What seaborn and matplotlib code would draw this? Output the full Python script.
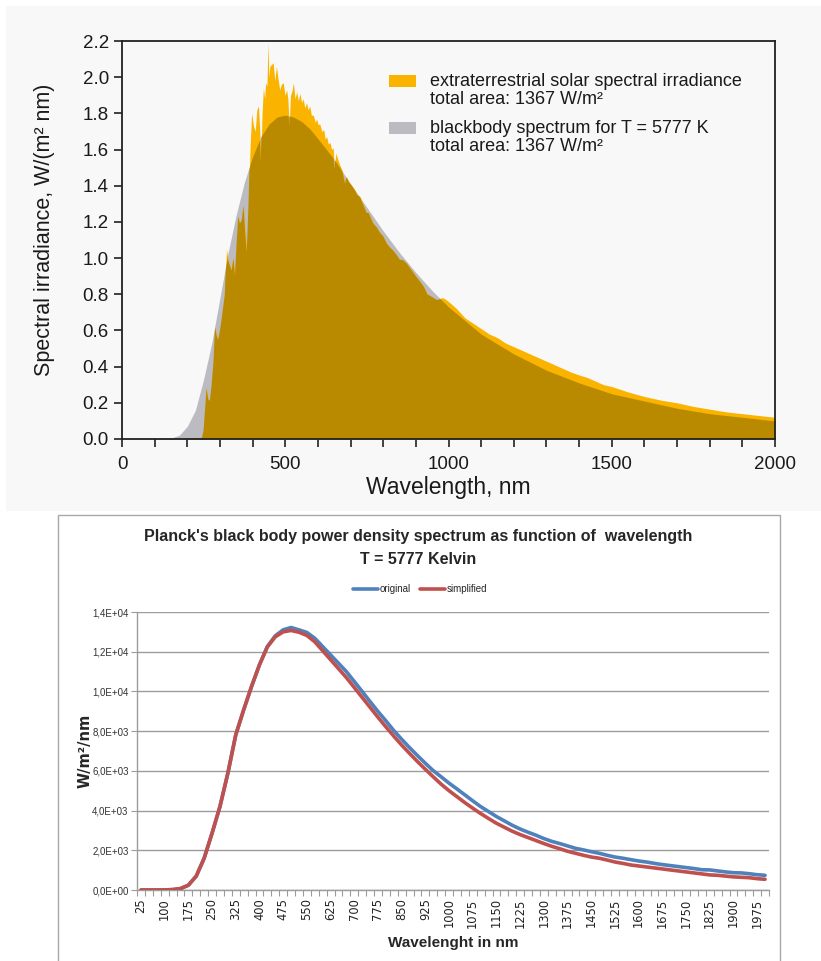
import matplotlib
matplotlib.use("Agg")
import matplotlib.pyplot as plt
from matplotlib.patches import Rectangle
from matplotlib.ticker import MultipleLocator, FixedLocator, FuncFormatter
import numpy as np
import pandas as pd
import seaborn as sns

sns.set_theme(style="white")
plt.rcParams['font.family'] = ['Liberation Sans', 'DejaVu Sans']

# ---- top chart: extraterrestrial spectrum vs blackbody
bb_nm = [100, 150, 175, 200, 225, 250, 275, 300, 325, 350, 375, 400, 425, 450,
         475, 500, 525, 550, 575, 600, 650, 700, 750, 800, 850, 900, 950, 1000,
         1100, 1200, 1300, 1400, 1500, 1600, 1700, 1800, 1900, 2000]
bb_val = [0.0, 0.005, 0.02, 0.07, 0.16, 0.33, 0.53, 0.78, 1.03, 1.24, 1.42, 1.56,
          1.67, 1.74, 1.78, 1.79, 1.78, 1.755, 1.715, 1.66, 1.545, 1.41, 1.28,
          1.15, 1.03, 0.92, 0.82, 0.73, 0.58, 0.47, 0.38, 0.31, 0.25, 0.21, 0.17,
          0.14, 0.12, 0.10]

solar_nm = [200, 245, 250, 255, 259, 264, 269, 274, 280, 285, 290, 295, 300, 305,
            310, 315, 320, 325, 330, 336, 341, 346, 351, 356, 361, 367, 372, 377,
            382, 387, 392, 397, 403, 408, 413, 418, 422, 425, 429, 433, 437, 440,
            444, 447, 450, 453, 458, 463, 468, 473, 478, 483, 488, 494, 499, 504,
            508, 512, 516, 520, 525, 530, 535, 540, 545, 550, 555, 560, 565, 570,
            575, 580, 586, 592, 596, 600, 606, 612, 618, 622, 627, 632, 637, 642,
            647, 650, 655, 660, 668, 675, 683, 688, 695, 700, 708, 715, 720, 729,
            735, 740, 749, 755, 760, 770, 780, 790, 800, 811, 820, 831, 840, 851,
            860, 872, 880, 892, 900, 913, 925, 935, 945, 954, 962, 970, 978, 984,
            992, 1000, 1025, 1050, 1075, 1100, 1125, 1150, 1175, 1200, 1225, 1250,
            1275, 1300, 1325, 1350, 1375, 1400, 1425, 1450, 1475, 1500, 1550, 1600,
            1650, 1700, 1750, 1800, 1850, 1900, 1950, 2000]
solar_val = [0.002, 0.006, 0.05, 0.18, 0.28, 0.22, 0.21, 0.29, 0.42, 0.62, 0.57,
             0.55, 0.60, 0.66, 0.73, 0.80, 1.05, 0.99, 0.96, 0.93, 1.00, 0.90,
             1.08, 1.23, 1.19, 1.21, 1.29, 1.15, 1.03, 1.27, 1.60, 1.80, 1.73,
             1.70, 1.82, 1.84, 1.70, 1.53, 1.80, 1.94, 1.88, 1.97, 1.95, 2.19,
             2.00, 2.06, 2.07, 2.08, 1.98, 2.06, 1.99, 1.93, 1.96, 1.97, 1.90,
             1.93, 1.88, 1.73, 1.90, 1.92, 1.97, 1.88, 1.92, 1.87, 1.91, 1.86,
             1.88, 1.83, 1.86, 1.82, 1.84, 1.79, 1.79, 1.75, 1.77, 1.74, 1.74,
             1.70, 1.71, 1.66, 1.67, 1.63, 1.64, 1.60, 1.61, 1.49, 1.58, 1.55,
             1.51, 1.48, 1.41, 1.45, 1.42, 1.41, 1.39, 1.37, 1.35, 1.34, 1.31,
             1.29, 1.25, 1.25, 1.23, 1.19, 1.17, 1.14, 1.12, 1.08, 1.06, 1.04,
             1.02, 0.99, 0.99, 0.97, 0.95, 0.92, 0.90, 0.87, 0.84, 0.80, 0.79,
             0.78, 0.77, 0.77, 0.78, 0.78, 0.77, 0.76, 0.72, 0.67, 0.64, 0.61,
             0.58, 0.56, 0.53, 0.51, 0.49, 0.47, 0.45, 0.43, 0.41, 0.39, 0.37,
             0.354, 0.34, 0.32, 0.30, 0.29, 0.26, 0.235, 0.215, 0.20, 0.18, 0.165,
             0.15, 0.14, 0.13, 0.12]

legend_labels = ["extraterrestrial solar spectral irradiance\ntotal area: 1367 W/m\u00b2",
                 "blackbody spectrum for T = 5777 K\ntotal area: 1367 W/m\u00b2"]

# ---- bottom chart: Planck curve, original vs simplified (W/m2/nm)
wl_cat = list(range(25, 2001, 25))
original = [0, 0, 0, 5, 20, 70, 240, 700, 1600, 2860, 4200, 5880, 7810, 9070,
            10250, 11340, 12260, 12800, 13100, 13220, 13100, 12970, 12680, 12260,
            11840, 11420, 11000, 10500, 10000, 9490, 8990, 8520, 8030, 7590, 7170,
            6770, 6380, 6010, 5700, 5380,
            5090, 4790, 4490, 4200, 3950, 3700, 3480, 3260, 3070, 2910,
            2760, 2590, 2450, 2340, 2220, 2100, 2020, 1930, 1850, 1750,
            1660, 1600, 1530, 1460, 1410, 1340, 1280, 1230, 1180, 1130,
            1080, 1020, 1010, 960, 910, 870, 860, 820, 770, 740]
simplified = [0, 0, 0, 5, 20, 70, 240, 700, 1600, 2860, 4200, 5880, 7810, 9070,
              10250, 11340, 12240, 12750, 13000, 13070, 12980, 12820, 12500, 12050,
              11600, 11150, 10700, 10200, 9700, 9200, 8700, 8220, 7750, 7300, 6880,
              6470, 6080, 5700, 5330, 5000,
              4700, 4400, 4120, 3850, 3600, 3360, 3160, 2960, 2790, 2640,
              2490, 2340, 2200, 2080, 1950, 1850, 1750, 1660, 1600, 1510,
              1410, 1340, 1260, 1210, 1160, 1110, 1060, 1010, 960, 910,
              860, 810, 760, 740, 700, 660, 640, 620, 570, 540]

YELLOW = "#fab400"
GRAY = "#bbbbc1"
DARK = "#b98a00"
BLUE = "#4f81bd"
RED = "#c0504d"
NARROW = ["Liberation Sans Narrow", "Liberation Sans"]
W, H = 821, 961

fig = plt.figure(figsize=(W / 100, H / 100), dpi=100)
fig.patch.set_facecolor("white")

# panel backgrounds
fig.add_artist(Rectangle((6 / W, 1 - 511 / H), 1, 505 / H, transform=fig.transFigure,
                         facecolor="#f8f8f8", edgecolor="none", zorder=-5))
fig.add_artist(Rectangle((57.5 / W, -0.01), (780 - 57.5) / W, (961 - 515) / H + 0.01,
                         transform=fig.transFigure, facecolor="white",
                         edgecolor="#a8a8a8", lw=1.0, zorder=-5))

# ================= top chart
ax1 = fig.add_axes([122 / W, 1 - 439 / H, 653 / W, 398 / H])
ax1.set_facecolor("#f8f8f8")
ax1.fill_between(bb_nm, bb_val, color=GRAY, lw=0, zorder=1)
sol = ax1.fill_between(solar_nm, solar_val, color=YELLOW, lw=0, zorder=2)
over = ax1.fill_between(bb_nm, bb_val, color=DARK, lw=0, zorder=3)
over.set_clip_path(sol.get_paths()[0], ax1.transData)

ax1.set_xlim(0, 2000)
ax1.set_ylim(0, 2.2)
ax1.xaxis.set_major_locator(MultipleLocator(500))
ax1.xaxis.set_minor_locator(MultipleLocator(100))
ax1.yaxis.set_major_locator(MultipleLocator(0.2))
ax1.yaxis.set_major_formatter(FuncFormatter(lambda v, p: f"{v:.1f}"))
for s in ax1.spines.values():
    s.set_color("#222222")
    s.set_linewidth(1.3)
    s.set_zorder(5)
ax1.tick_params(which="both", direction="out", bottom=True, left=True,
                length=6, width=1.2, color="#222222", labelsize=13.5,
                labelcolor="#1a1a1a")
ax1.tick_params(axis="x", pad=6)
ax1.set_xlabel("Wavelength, nm", fontsize=16.5, color="#1a1a1a")
ax1.xaxis.set_label_coords(0.5, -0.092)
ax1.set_ylabel("Spectral irradiance, W/(m\u00b2 nm)", fontsize=15.5, color="#1a1a1a")
ax1.yaxis.set_label_coords(-0.103, 0.525)

# legend drawn as patches + two-line texts
for fy, col, lab, ty in [(0.884, YELLOW, legend_labels[0], 0.8756),
                         (0.766, GRAY, legend_labels[1], 0.7575)]:
    ax1.add_patch(Rectangle((0.409, fy), 0.0413, 0.030, transform=ax1.transAxes,
                            facecolor=col, edgecolor="none", zorder=6))
    ax1.text(0.4717, ty, lab, transform=ax1.transAxes, va="center", ha="left",
             fontsize=13, linespacing=1.1, color="#1a1a1a", zorder=6)

# ================= bottom chart
df = pd.DataFrame({"wl": wl_cat * 2,
                   "val": original + simplified,
                   "series": ["original"] * len(wl_cat) + ["simplified"] * len(wl_cat)})

ax2 = fig.add_axes([137 / W, 1 - 890 / H, 632 / W, 278 / H])
ax2.set_facecolor("white")
sns.lineplot(data=df, x="wl", y="val", hue="series",
             palette={"original": BLUE, "simplified": RED},
             linewidth=2.6, ax=ax2, legend=False, zorder=3)

ax2.set_xlim(12.5, 2012.5)
ax2.set_ylim(0, 14000)
ax2.yaxis.set_major_locator(MultipleLocator(2000))
ax2.yaxis.set_major_formatter(FuncFormatter(lambda v, p: f"{v:.1E}".replace(".", ",")))
ax2.xaxis.set_major_locator(FixedLocator(wl_cat[::3]))
ax2.xaxis.set_minor_locator(FixedLocator([w - 12.5 for w in wl_cat] + [2012.5]))
ax2.set_xticklabels([str(w) for w in wl_cat[::3]], rotation=90,
                    fontsize=8.3, family="DejaVu Sans", color="#222222")
ax2.grid(axis="y", color="#9c9c9c", lw=1.0)
ax2.set_axisbelow(True)
for k in ["top", "right"]:
    ax2.spines[k].set_visible(False)
for k in ["left", "bottom"]:
    ax2.spines[k].set_color("#9c9c9c")
    ax2.spines[k].set_linewidth(1.0)
ax2.tick_params(axis="x", which="major", bottom=True, length=0, pad=6)
ax2.tick_params(axis="x", which="minor", bottom=True, length=4, width=0.8,
                color="#9c9c9c")
ax2.tick_params(axis="y", left=True, length=4, width=0.8, color="#9c9c9c",
                labelsize=7, labelcolor="#333333", pad=2)
for t in ax2.get_yticklabels():
    t.set_family(NARROW)
ax2.set_xlabel("Wavelenght in nm", fontsize=11, fontweight="bold", family=NARROW,
               labelpad=6)
ax2.set_ylabel("W/m\u00b2/nm", fontsize=10.5, fontweight="bold", family="DejaVu Sans")
ax2.yaxis.set_label_coords(-0.071, 0.5)

fig.text(418 / W, 1 - 537 / H,
         "Planck's black body power density spectrum as function of  wavelength",
         ha="center", va="center", fontsize=11.5, fontweight="bold", family=NARROW)
fig.text(418 / W, 1 - 560 / H, "T = 5777 Kelvin", ha="center", va="center",
         fontsize=11.5, fontweight="bold", family=NARROW)

handles = ax2.get_lines()[:2]
fig.legend(handles, ["original", "simplified"], loc="center",
           bbox_to_anchor=(420 / W, 1 - 589 / H), ncol=2, frameon=False,
           handlelength=2.6, handletextpad=0.1, columnspacing=1.0,
           prop={"family": NARROW, "size": 7})

fig.savefig("out.png", dpi=100)
